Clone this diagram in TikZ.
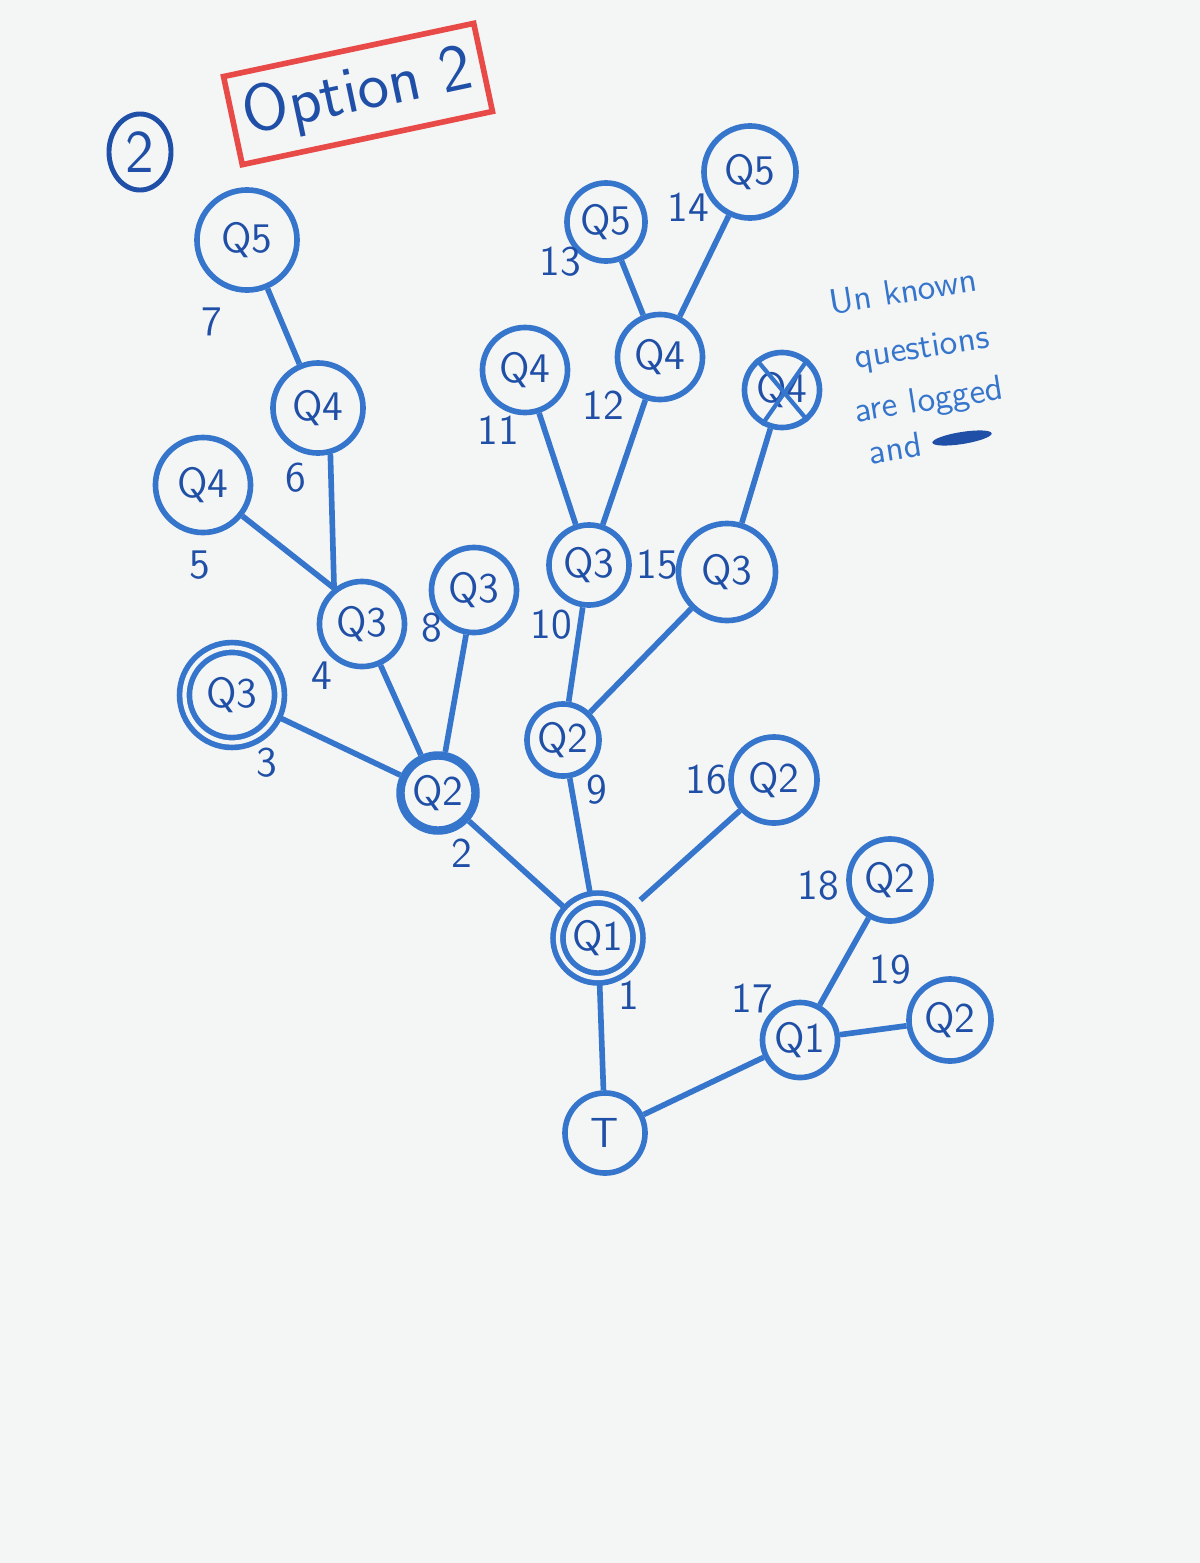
\documentclass[tikz,border=0pt]{standalone}
\usepackage{xcolor}
\usepackage{tikz}
\usetikzlibrary{shapes.geometric}
\usetikzlibrary{calc}

\definecolor{penblue}{HTML}{3575CC}
\definecolor{inkblue}{HTML}{1F4FA6}
\definecolor{penred}{HTML}{E84A48}
\definecolor{paper}{HTML}{F4F5F5}

\tikzset{
  qn/.style={circle,draw=penblue,line width=1.6pt,text=inkblue,
    font=\large\sffamily,inner sep=0pt,minimum size=#1},
  qn/.default=0.85cm,
  lbl/.style={text=inkblue,font=\large\sffamily,inner sep=1pt},
  edge/.style={draw=penblue,line width=1.6pt},
  notetext/.style={text=penblue,font=\sffamily,rotate=9,inner sep=0pt}
}

\begin{document}
\begin{tikzpicture}[x=0.01cm,y=-0.01cm]
   \fill[paper] (0,0) rectangle (1200,1563);
   \useasboundingbox (0,0) rectangle (1200,1563);
   % heading
   \node[ellipse,draw=inkblue,line width=1.4pt,text=inkblue,font=\LARGE\sffamily,
     minimum width=0.62cm,minimum height=0.76cm,inner sep=0pt] (num) at (140,152) {2};
   \node[draw=penred,line width=1.6pt,rotate=12,text=inkblue,font=\fontsize{19}{21}\selectfont\sffamily,
     minimum width=2.4cm,minimum height=0.9cm] (opt) at (358,94) {Option 2};
   % left branch
   \node[qn=1.0cm] (q5a) at (247,240) {Q5};
   \node[qn=0.9cm] (q4a) at (318,408) {Q4};
   \node[qn=0.95cm] (q4b) at (203,485) {Q4};
   \node[qn] (q3a) at (362,624) {Q3};
   \node[qn] (q3b) at (474,590) {Q3};
   \node[qn=0.95cm,double=paper,double distance=1.2pt] (q3c) at (232,695) {Q3};
   \node[qn=0.75cm,line width=2.4pt] (q2a) at (438,793) {Q2};
   \node[qn=0.8cm,double=paper,double distance=1.2pt] (q1a) at (598,938) {Q1};
   \node[qn=0.8cm] (tt) at (605,1133) {T};
   % middle branch
   \node[qn=0.72cm] (q2b) at (563,740) {Q2};
   \node[qn=0.8cm] (q3d) at (589,565) {Q3};
   \node[qn=0.97cm] (q3e) at (727,572) {Q3};
   \node[qn=0.75cm] (q4c) at (782,390) {Q4};
   \node[qn] (q4d) at (525,370) {Q4};
   \node[qn] (q4e) at (660,357) {Q4};
   \node[qn=0.78cm] (q5b) at (606,222) {Q5};
   \node[qn=0.92cm] (q5c) at (750,172) {Q5};
   \node[qn=0.86cm] (q2c) at (774,780) {Q2};
   % right branch
   \node[qn=0.75cm] (q1b) at (800,1040) {Q1};
   \node[qn=0.82cm] (q2d) at (890,880) {Q2};
   \node[qn=0.82cm] (q2e) at (950,1020) {Q2};
   % crossed out node
   \draw[edge,line width=1.2pt] (q4c.130) -- (q4c.-50);
   \draw[edge,line width=1.2pt] (q4c.50) -- (q4c.-120);
   % connectors
   \draw[edge] (q5a) -- (q4a);
   \draw[edge] (q4a.-75) -- (q3a.128);
   \draw[edge] (q4b) -- (q3a.128);
   \draw[edge] (q3a) -- (q2a);
   \draw[edge] (q3b) -- (q2a);
   \draw[edge] (q3c) -- (q2a);
   \draw[edge] (q2a) -- (q1a);
   \draw[edge] (q2b) -- (q1a);
   \draw[edge,shorten <=4pt] (q1a) -- (q2c);
   \draw[edge] (q1a) -- (tt);
   \draw[edge] (q2b) -- (q3d);
   \draw[edge] (q2b) -- (q3e);
   \draw[edge] (q3d) -- (q4d);
   \draw[edge] (q3d) -- (q4e);
   \draw[edge] (q3e) -- (q4c);
   \draw[edge] (q4e) -- (q5b);
   \draw[edge] (q4e) -- (q5c);
   \draw[edge] (tt) -- (q1b);
   \draw[edge] (q1b) -- (q2d);
   \draw[edge] (q1b) -- (q2e);
   % edge numbers
   \node[lbl] (n1) at (629,995) {1};
   \node[lbl] (n2) at (462,853) {2};
   \node[lbl] (n3) at (267,763) {3};
   \node[lbl] (n4) at (322,676) {4};
   \node[lbl] (n5) at (200,565) {5};
   \node[lbl] (n6) at (296,478) {6};
   \node[lbl] (n7) at (212,322) {7};
   \node[lbl] (n8) at (432,628) {8};
   \node[lbl] (n9) at (597,790) {9};
   \node[lbl] (n10) at (551,625) {10};
   \node[lbl] (n11) at (498,430) {11};
   \node[lbl] (n12) at (603,405) {12};
   \node[lbl] (n13) at (560,262) {13};
   \node[lbl] (n14) at (688,207) {14};
   \node[lbl] (n15) at (657,565) {15};
   \node[lbl] (n16) at (706,780) {16};
   \node[lbl] (n17) at (752,998) {17};
   \node[lbl] (n18) at (818,886) {18};
   \node[lbl] (n19) at (890,970) {19};
   % note
   \node[notetext] (note1) at (903,291) {Un known};
   \node[notetext] (note2) at (922,350) {questions};
   \node[notetext] (note3) at (929,402) {are logged};
   \node[notetext] (note4) at (895,448) {and};
   \fill[inkblue,rotate around={9:(962,438)}] (962,438) ellipse (30 and 6);
\end{tikzpicture}
\end{document}
